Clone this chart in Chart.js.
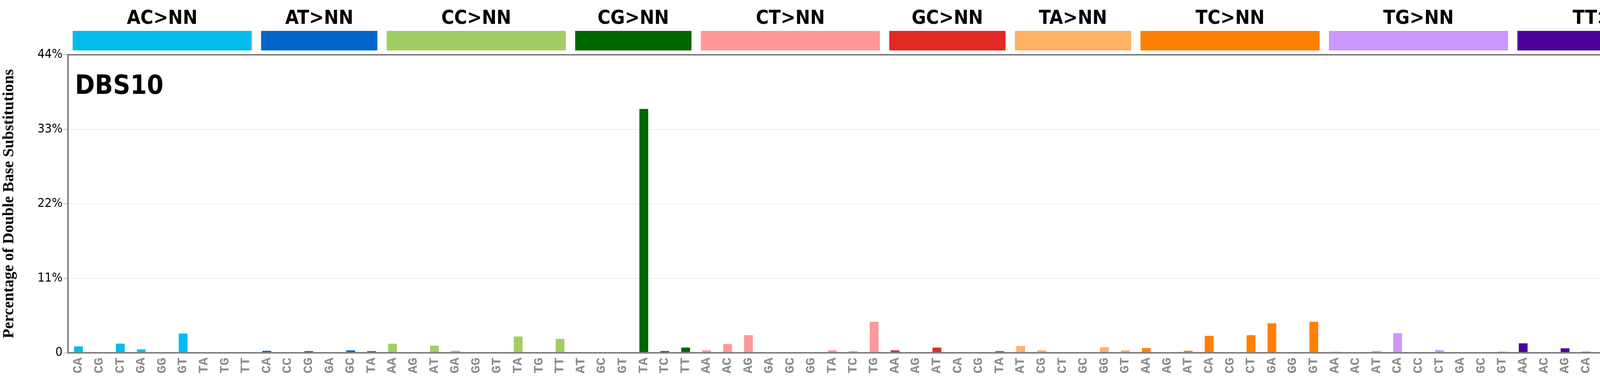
<!DOCTYPE html>
<html>
<head>
<meta charset="utf-8">
<script src="https://cdn.jsdelivr.net/npm/chart.js@4.4.1/dist/chart.umd.min.js"></script>
<style>
  html, body { margin: 0; padding: 0; background: #fff; overflow: hidden; }
  #wrap { width: 4393px; height: 992px; position: relative; }
  canvas { display: block; width: 4393px !important; height: 992px !important; }
</style>
</head>
<body>
<div id="wrap"><canvas id="myChart" width="4393" height="992" style="width:4393px;height:992px"></canvas></div>
<script>
const groups = ["AC>NN", "AT>NN", "CC>NN", "CG>NN", "CT>NN", "GC>NN", "TA>NN", "TC>NN", "TG>NN", "TT>NN"];
const groupColors = ["#03BCEE", "#0266CA", "#A1CE63", "#016601", "#FF9898", "#E22926", "#FEB065", "#FE8002", "#CB98FD", "#4C0199"];
const groupChannels = [
  ["CA", "CG", "CT", "GA", "GG", "GT", "TA", "TG", "TT"],
  ["CA", "CC", "CG", "GA", "GC", "TA"],
  ["AA", "AG", "AT", "GA", "GG", "GT", "TA", "TG", "TT"],
  ["AT", "GC", "GT", "TA", "TC", "TT"],
  ["AA", "AC", "AG", "GA", "GC", "GG", "TA", "TC", "TG"],
  ["AA", "AG", "AT", "CA", "CG", "TA"],
  ["AT", "CG", "CT", "GC", "GG", "GT"],
  ["AA", "AG", "AT", "CA", "CG", "CT", "GA", "GG", "GT"],
  ["AA", "AC", "AT", "CA", "CC", "CT", "GA", "GC", "GT"],
  ["AA", "AC", "AG", "CA", "CC", "CG", "GA", "GC", "GG"]
];
// percentages
const groupValues = [
  [0.95, 0, 1.35, 0.5, 0.07, 2.85, 0, 0, 0.1],
  [0.3, 0.1, 0.25, 0, 0.37, 0.25],
  [1.35, 0, 1.05, 0.3, 0, 0.1, 2.4, 0, 2.05],
  [0, 0, 0, 36.0, 0.25, 0.77],
  [0.37, 1.28, 2.6, 0, 0, 0, 0.37, 0.25, 4.58],
  [0.37, 0, 0.77, 0, 0, 0.25],
  [1.0, 0.37, 0.1, 0, 0.8, 0.37],
  [0.7, 0.07, 0.3, 2.5, 0.1, 2.6, 4.36, 0, 4.58],
  [0.15, 0.07, 0.25, 2.9, 0.07, 0.4, 0, 0, 0.18],
  [1.4, 0, 0.66, 0.15, 0.25, 0.8, 0.8, 2.56, 8.46]
];
const yTicks = [0, 11, 22, 33, 44];
const signatureName = "DBS10";
const yTitle = "Percentage of Double Base Substitutions";

const labels = [], values = [], colors = [], groupRanges = [];
groupChannels.forEach((chs, g) => {
  const start = labels.length;
  chs.forEach((c, i) => {
    labels.push(c);
    values.push(groupValues[g][i]);
    colors.push(groupColors[g]);
  });
  groupRanges.push([start, labels.length - 1]);
});

const decor = {
  id: "decor",
  afterDraw(chart) {
    const ctx = chart.ctx, a = chart.chartArea, x = chart.scales.x, y = chart.scales.y;
    const step = x.getPixelForValue(1) - x.getPixelForValue(0);
    ctx.save();
    // header bars and titles
    groupRanges.forEach((r, g) => {
      const x0 = x.getPixelForValue(r[0]) - step / 2 + 12;
      const x1 = x.getPixelForValue(r[1]) + step / 2 - 12;
      ctx.fillStyle = groupColors[g];
      ctx.fillRect(x0, 79, x1 - x0, 50);
      ctx.fillStyle = "#000";
      ctx.font = "bold 50px 'DejaVu Sans Condensed', 'DejaVu Sans'";
      ctx.textAlign = "center";
      ctx.textBaseline = "middle";
      ctx.fillText(groups[g], (x0 + x1) / 2, 48);
    });
    // right-side tick marks
    ctx.strokeStyle = "#ccc";
    ctx.lineWidth = 3;
    yTicks.slice(1, -1).forEach(t => {
      const py = y.getPixelForValue(t);
      ctx.beginPath(); ctx.moveTo(a.right - 12, py); ctx.lineTo(a.right, py); ctx.stroke();
    });
    // frame
    ctx.strokeStyle = "#808080";
    ctx.lineWidth = 4;
    ctx.strokeRect(a.left, a.top, a.right - a.left, a.bottom - a.top);
    // signature name
    ctx.fillStyle = "#000";
    ctx.font = "bold 68px 'DejaVu Sans Condensed', 'DejaVu Sans'";
    ctx.textAlign = "left";
    ctx.textBaseline = "middle";
    ctx.fillText(signatureName, a.left + 18, 222);
    ctx.restore();
  }
};

new Chart(document.getElementById("myChart").getContext("2d"), {
  type: "bar",
  data: {
    labels: labels,
    datasets: [{ data: values, backgroundColor: colors, barPercentage: 0.42, categoryPercentage: 1.0 }]
  },
  options: {
    responsive: false,
    maintainAspectRatio: false,
    animation: false,
    devicePixelRatio: 1,
    layout: { padding: { top: 140, right: 38, left: 0, bottom: 0 } },
    plugins: { legend: { display: false }, tooltip: { enabled: false } },
    scales: {
      x: {
        afterFit(s) { s.height = 90; },
        grid: { display: false },
        border: { display: false },
        ticks: {
          autoSkip: false, maxRotation: 90, minRotation: 90, padding: 4,
          color: "#8c8c8c",
          font: { family: "'Liberation Mono', 'DejaVu Sans Mono'", weight: "bold", size: 34 }
        }
      },
      y: {
        min: 0, max: 44,
        afterFit(s) { s.width = 174; },
        afterBuildTicks(s) { s.ticks = yTicks.map(v => ({ value: v })); },
        grid: { color: "#eeeeee", lineWidth: 2, tickColor: "#cccccc", tickLength: 12, tickWidth: 3 },
        border: { display: false },
        title: {
          display: true, text: yTitle, color: "#000", padding: 0,
          font: { family: "'Liberation Serif', 'DejaVu Serif'", weight: "bold", size: 40 }
        },
        ticks: {
          color: "#000", padding: 2,
          font: { family: "'DejaVu Sans Condensed', 'DejaVu Sans'", size: 32 },
          callback: v => v === 0 ? "0" : v + "%"
        }
      }
    }
  },
  plugins: [decor]
});
</script>
</body>
</html>
